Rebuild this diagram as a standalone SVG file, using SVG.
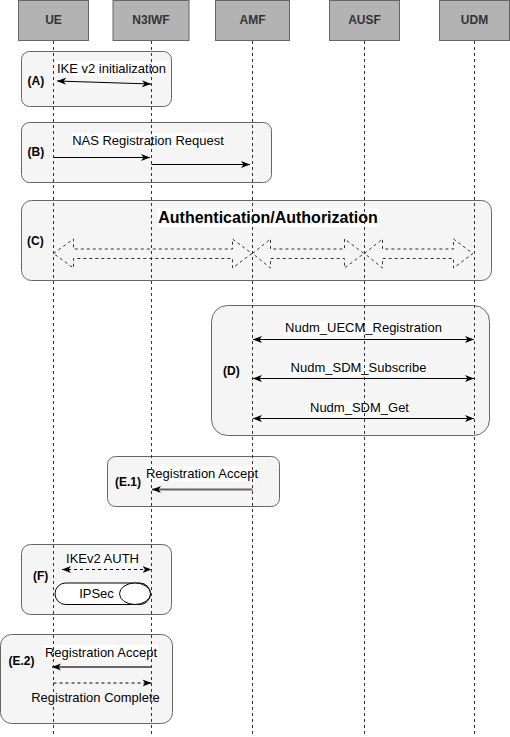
<svg xmlns="http://www.w3.org/2000/svg" width="510" height="737" viewBox="0 0 510 737">
<defs>
<style>
.hdr rect{fill:#b3b3b3;stroke:#666;stroke-width:1}
.hdr text{font-family:"Liberation Sans",Arial,sans-serif;font-size:12px;font-weight:bold;fill:#333;text-anchor:middle}
.life{stroke:#333;stroke-width:1;stroke-dasharray:3 3;fill:none}
.grp{fill:#f5f5f5;stroke:#666;stroke-width:1}
.gl{font-family:"Liberation Sans",Arial,sans-serif;font-size:12px;font-weight:bold;fill:#000}
.lbl{font-family:"Liberation Sans",Arial,sans-serif;font-size:13px;fill:#000;text-anchor:middle}
.bg{fill:#fff}
.msg{stroke:#000;stroke-width:1;fill:none}
.dash{stroke-dasharray:3 3}
.thick{stroke:#666;stroke-width:2}
.hollow{fill:none;stroke:#333;stroke-width:1;stroke-dasharray:3 3}
</style>
<marker id="ah" markerWidth="10" markerHeight="8" refX="9" refY="4" orient="auto-start-reverse" markerUnits="userSpaceOnUse">
<path d="M0,0.5 L9,4 L0,7.5 L2.5,4 Z" fill="#000"/>
</marker>
</defs>
<rect width="510" height="737" fill="#fff"/>

<g id="UE" class="hdr"><rect x="18.5" y="0.5" width="70" height="40"/><text x="53.5" y="24">UE</text></g>
<g id="N3IWF" class="hdr"><rect x="113" y="0.5" width="76" height="40"/><text x="151" y="24">N3IWF</text></g>
<g id="AMF" class="hdr"><rect x="215.5" y="0.5" width="74" height="40"/><text x="252.5" y="24">AMF</text></g>
<g id="AUSF" class="hdr"><rect x="329.5" y="0.5" width="70" height="40"/><text x="364.5" y="24">AUSF</text></g>
<g id="UDM" class="hdr"><rect x="439.5" y="0.5" width="70" height="40"/><text x="474.5" y="24">UDM</text></g>

<g id="groups">
<g id="grpA"><rect class="grp" x="21.5" y="51.5" width="150" height="55" rx="8"/><text class="gl" x="27.5" y="85">(A)</text></g>
<g id="grpB"><rect class="grp" x="21.5" y="122.5" width="250" height="60" rx="8"/><text class="gl" x="27.5" y="155.5">(B)</text></g>
<g id="grpC"><rect class="grp" x="21.5" y="200.5" width="470" height="80" rx="10"/><text class="gl" x="27" y="245">(C)</text></g>
<g id="grpD"><rect class="grp" x="211.5" y="305.5" width="278" height="130" rx="16"/><text class="gl" x="223" y="375">(D)</text></g>
<g id="grpE1"><rect class="grp" x="107.5" y="456.5" width="172" height="50" rx="8"/><text class="gl" x="115" y="486">(E.1)</text></g>
<g id="grpF"><rect class="grp" x="21.5" y="544.5" width="150" height="70" rx="9"/><text class="gl" x="33" y="580">(F)</text></g>
<g id="grpE2"><rect class="grp" x="0.5" y="634.5" width="172" height="89" rx="11"/><text class="gl" x="8.5" y="664.5">(E.2)</text></g>
</g>

<g id="ipsec">
<rect x="55" y="583" width="95.5" height="21.5" rx="10.75" fill="#fff" stroke="#000" stroke-width="1"/>
<ellipse cx="135" cy="593.75" rx="15.5" ry="10.75" fill="#fff" stroke="#000" stroke-width="1"/>
<text class="lbl" x="96.5" y="597.5">IPSec</text>
</g>

<g id="labels">
<rect class="bg" x="56" y="61" width="111" height="15"/>
<text class="lbl" x="111.5" y="72.5">IKE v2 initialization</text>
<rect class="bg" x="72" y="133" width="152" height="15"/>
<text class="lbl" x="148" y="144.5">NAS Registration Request</text>
<rect class="bg" x="157" y="208" width="222" height="19"/>
<text x="268" y="223" font-family="&quot;Liberation Sans&quot;,Arial,sans-serif" font-size="16" font-weight="bold" text-anchor="middle">Authentication/Authorization</text>
<rect class="bg" x="284" y="321" width="159" height="15"/>
<text class="lbl" x="363.5" y="332">Nudm_UECM_Registration</text>
<rect class="bg" x="289" y="361" width="139" height="15"/>
<text class="lbl" x="358.5" y="372">Nudm_SDM_Subscribe</text>
<rect class="bg" x="309" y="401" width="101" height="15"/>
<text class="lbl" x="359.5" y="412">Nudm_SDM_Get</text>
<rect class="bg" x="146" y="466" width="112" height="15"/>
<text class="lbl" x="202" y="477.5">Registration Accept</text>
<rect class="bg" x="68" y="552" width="69" height="15"/>
<text class="lbl" x="102.5" y="563">IKEv2 AUTH</text>
<rect class="bg" x="44" y="645" width="114" height="15"/>
<text class="lbl" x="101" y="656.5">Registration Accept</text>
<text class="lbl" x="95.5" y="702">Registration Complete</text>
</g>

<g id="lifelines">
<line class="life" x1="53.5" y1="41" x2="53.5" y2="737"/>
<line class="life" x1="151.5" y1="41" x2="151.5" y2="737"/>
<line class="life" x1="252.5" y1="41" x2="252.5" y2="737"/>
<line class="life" x1="364.5" y1="41" x2="364.5" y2="737"/>
<line class="life" x1="474.5" y1="41" x2="474.5" y2="737"/>
</g>

<g id="connectors">
<line class="msg" x1="57" y1="81" x2="151" y2="84" marker-start="url(#ah)" marker-end="url(#ah)"/>
<line class="msg" x1="53.5" y1="157.5" x2="150" y2="157.5" marker-end="url(#ah)"/>
<line class="msg" x1="151.5" y1="164.5" x2="250" y2="164.5" marker-end="url(#ah)"/>
<path class="hollow" d="M53.5,253.5 L73.5,239 L73.5,249 L232.5,249 L232.5,239 L252,253.5 L232.5,268 L232.5,258.5 L73.5,258.5 L73.5,268 Z"/>
<path class="hollow" d="M252.5,253.5 L270.5,239 L270.5,249 L344.5,249 L344.5,239 L364,253.5 L344.5,268 L344.5,258.5 L270.5,258.5 L270.5,268 Z"/>
<path class="hollow" d="M364.5,253.5 L382.5,239 L382.5,249 L453.5,249 L453.5,239 L473,253.5 L453.5,268 L453.5,258.5 L382.5,258.5 L382.5,268 Z"/>
<line class="msg" x1="253" y1="339.5" x2="474" y2="339.5" marker-start="url(#ah)" marker-end="url(#ah)"/>
<line class="msg" x1="253" y1="378.5" x2="474" y2="378.5" marker-start="url(#ah)" marker-end="url(#ah)"/>
<line class="msg" x1="253" y1="418.5" x2="474" y2="418.5" marker-start="url(#ah)" marker-end="url(#ah)"/>
<line class="msg thick" x1="252.5" y1="489.5" x2="152" y2="489.5" marker-end="url(#ah)"/>
<line class="msg dash" x1="62" y1="569.5" x2="151.5" y2="569.5" marker-start="url(#ah)" marker-end="url(#ah)"/>
<line class="msg thick" x1="151.5" y1="667" x2="52" y2="667" marker-end="url(#ah)"/>
<line class="msg dash" x1="53.5" y1="683" x2="151.5" y2="683" marker-end="url(#ah)"/>
</g>
</svg>
